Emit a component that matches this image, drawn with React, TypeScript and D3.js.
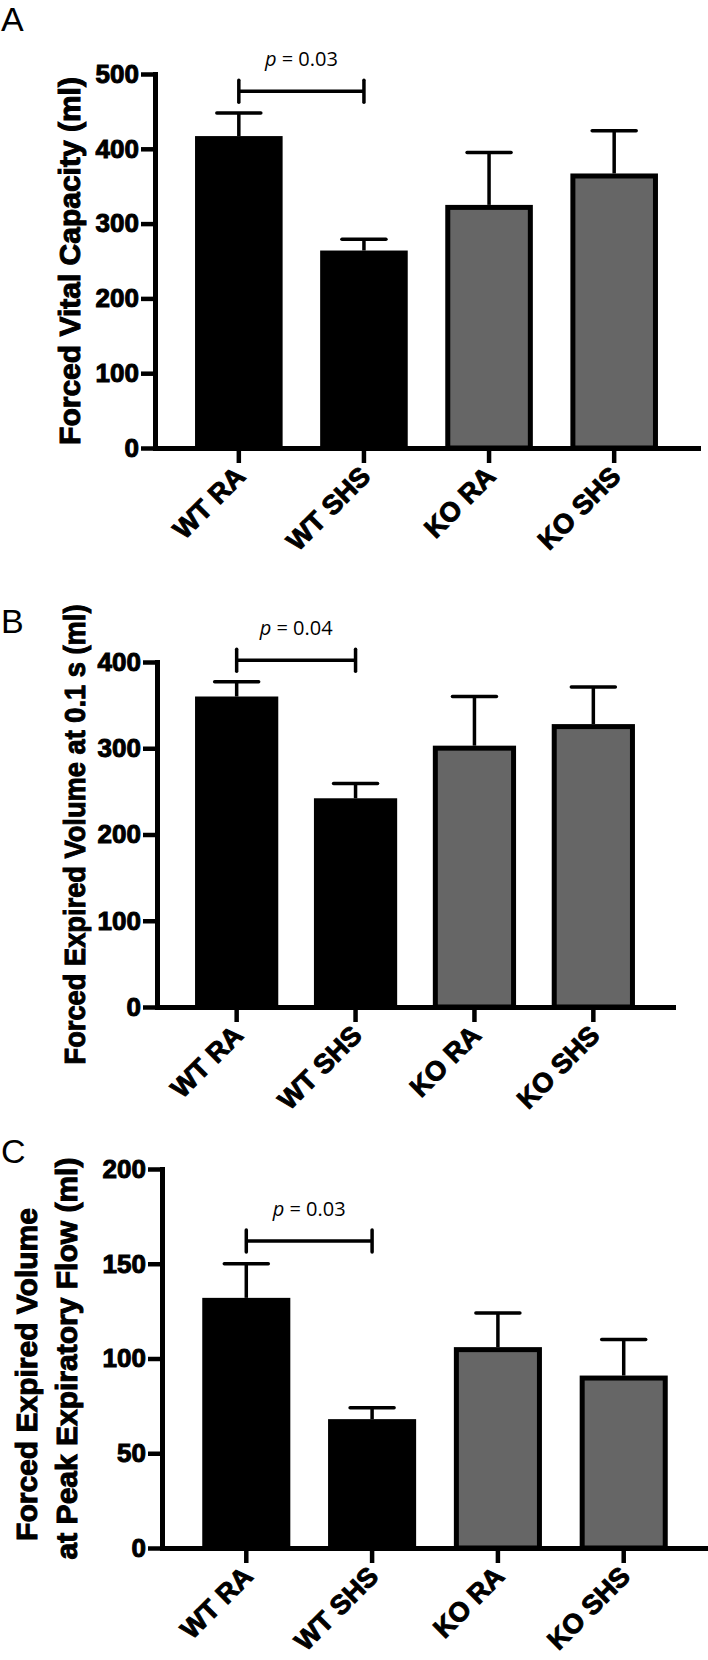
import React, { useRef, useEffect } from "react";
import * as d3 from "d3";

// groups on the x axis
const groups = ["WT RA", "WT SHS", "KO RA", "KO SHS"];
const groupFill = ["#000000", "#000000", "#666666", "#666666"];

// A - forced vital capacity
const fvcMean = [417, 264, 325, 367];
const fvcSem = [31, 15, 70, 57];
const fvcTicks = [0, 100, 200, 300, 400, 500];

// B - forced expired volume at 0.1 s
const fev01Mean = [360, 242, 303, 328];
const fev01Sem = [17, 17, 57, 43];
const fev01Ticks = [0, 100, 200, 300, 400];

// C - forced expired volume at peak expiratory flow
const fevPefMean = [132, 68, 106, 91];
const fevPefSem = [18, 6, 18, 19];
const fevPefTicks = [0, 50, 100, 150, 200];

const panelLetters = ["A", "B", "C"];
const yTitles = [
    ["Forced Vital Capacity (ml)"],
    ["Forced Expired Volume at 0.1 s (ml)"],
    ["Forced Expired Volume", "at Peak Expiratory Flow (ml)"],
];
const pLabels = ["0.03", "0.04", "0.03"];
const bracketLevel = [477, 402, 162];

// where each panel sits on the page
const layouts = [
    { left: 155, right: 698, top: 74, bottom: 448, letterY: 31, titleX: [80], titleShift: [0], titleLen: [0] },
    { left: 157, right: 673, top: 662, bottom: 1007, letterY: 633, titleX: [85], titleShift: [0], titleLen: [460] },
    { left: 162, right: 708, top: 1169, bottom: 1548, letterY: 1163, titleX: [37, 77], titleShift: [16, 0], titleLen: [0, 0] },
];

const panels = [
    { mean: fvcMean, sem: fvcSem, ticks: fvcTicks },
    { mean: fev01Mean, sem: fev01Sem, ticks: fev01Ticks },
    { mean: fevPefMean, sem: fevPefSem, ticks: fevPefTicks },
];

const boldFont = "'Liberation Sans', Arial, Helvetica, sans-serif";
const plainFont = "'Open Sans', 'Noto Sans', sans-serif";

export default function App() {
    const svgRef = useRef<SVGSVGElement>(null);

    useEffect(() => {
        const svg = d3.select(svgRef.current);
        svg.selectAll("*").remove();

        panels.forEach((p, i) => {
            const L = layouts[i];
            const g = svg.append("g");

            const x = d3
                .scaleBand()
                .domain(groups)
                .range([L.left, L.right])
                .paddingInner(0.3)
                .paddingOuter(0.32);
            const y = d3
                .scaleLinear()
                .domain([0, d3.max(p.ticks) as number])
                .range([L.bottom, L.top]);
            const bw = x.bandwidth();
            const cx = (d: string) => (x(d) as number) + bw / 2;

            // bars
            g.selectAll("rect.bar")
                .data(groups)
                .join("rect")
                .attr("class", "bar")
                .attr("x", (d) => (x(d) as number) + 2.5)
                .attr("y", (d, j) => y(p.mean[j]) + 2.5)
                .attr("width", bw - 5)
                .attr("height", (d, j) => y(0) - y(p.mean[j]) - 2.5)
                .attr("fill", (d, j) => groupFill[j])
                .attr("stroke", "#000")
                .attr("stroke-width", 5);

            // error bars (upper only)
            const eb = g.selectAll("g.err").data(groups).join("g").attr("class", "err");
            eb.append("line")
                .attr("x1", cx)
                .attr("x2", cx)
                .attr("y1", (d, j) => y(p.mean[j]))
                .attr("y2", (d, j) => y(p.mean[j] + p.sem[j]))
                .attr("stroke", "#000")
                .attr("stroke-width", 3.5);
            eb.append("line")
                .attr("x1", (d) => cx(d) - 22)
                .attr("x2", (d) => cx(d) + 22)
                .attr("y1", (d, j) => y(p.mean[j] + p.sem[j]))
                .attr("y2", (d, j) => y(p.mean[j] + p.sem[j]))
                .attr("stroke", "#000")
                .attr("stroke-width", 3.5)
                .attr("stroke-linecap", "round");

            // y axis
            const yAxis = g
                .append("g")
                .attr("transform", `translate(${L.left},0)`)
                .call(d3.axisLeft(y).tickValues(p.ticks).tickSize(14).tickSizeOuter(0).tickPadding(2));
            yAxis.select(".domain").attr("stroke-width", 5).attr("stroke-linecap", "square");
            yAxis.selectAll(".tick line").attr("stroke-width", 4.5);
            yAxis
                .attr("font-family", boldFont)
                .attr("font-size", 26)
                .attr("font-weight", "bold");
            yAxis.selectAll(".tick text").attr("fill", "#000").attr("stroke", "#000").attr("stroke-width", 1);

            // x axis
            const xAxis = g
                .append("g")
                .attr("transform", `translate(0,${L.bottom})`)
                .call(d3.axisBottom(x).tickSize(15).tickSizeOuter(0));
            xAxis.select(".domain").attr("stroke-width", 5).attr("stroke-linecap", "square");
            xAxis.selectAll(".tick line").attr("stroke-width", 4.5);
            xAxis
                .attr("font-family", boldFont)
                .attr("font-size", 27)
                .attr("font-weight", "bold");
            xAxis
                .selectAll(".tick text")
                .attr("fill", "#000")
                .attr("stroke", "#000")
                .attr("stroke-width", 1)
                .attr("x", 0)
                .attr("y", 0)
                .attr("dy", 0)
                .attr("text-anchor", "end")
                .attr("transform", "translate(8,30) rotate(-45)");

            // significance bracket
            const bx0 = cx(groups[0]);
            const bx1 = cx(groups[1]);
            const by = y(bracketLevel[i]);
            const br = g.append("g").attr("stroke", "#000").attr("stroke-width", 3.5);
            br.append("line").attr("x1", bx0).attr("x2", bx1).attr("y1", by).attr("y2", by);
            [bx0, bx1].forEach((bx) => {
                br.append("line")
                    .attr("x1", bx)
                    .attr("x2", bx)
                    .attr("y1", by - 11)
                    .attr("y2", by + 11)
                    .attr("stroke-linecap", "round");
            });
            const pt = g
                .append("text")
                .attr("x", (bx0 + bx1) / 2)
                .attr("y", by - 25)
                .attr("text-anchor", "middle")
                .attr("font-family", plainFont)
                .attr("font-size", 20);
            pt.append("tspan").attr("font-style", "italic").text("p");
            pt.append("tspan").text(" = " + pLabels[i]);

            // panel letter
            g.append("text")
                .attr("x", 1)
                .attr("y", L.letterY)
                .attr("font-family", boldFont)
                .attr("font-size", 34)
                .text(panelLetters[i]);

            // y title
            const midY = (L.top + L.bottom) / 2;
            yTitles[i].forEach((line, k) => {
                const t = g
                    .append("text")
                    .attr("transform", `translate(${L.titleX[k]},${midY + L.titleShift[k]}) rotate(-90)`)
                    .attr("text-anchor", "middle")
                    .attr("font-family", boldFont)
                    .attr("font-size", 30)
                    .attr("font-weight", "bold")
                    .attr("stroke", "#000")
                    .attr("stroke-width", 1)
                    .text(line);
                if (L.titleLen[k]) {
                    t.attr("textLength", L.titleLen[k]).attr("lengthAdjust", "spacingAndGlyphs");
                }
            });
        });
    }, []);

    return (
        <svg
            ref={svgRef}
            width={708}
            height={1660}
            style={{ position: "absolute", left: 0, top: 0, background: "#fff", display: "block" }}
        ></svg>
    );
}
